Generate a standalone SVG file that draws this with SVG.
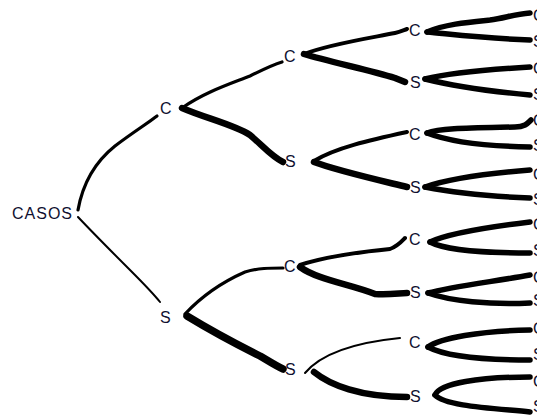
<svg xmlns="http://www.w3.org/2000/svg" width="537" height="415" viewBox="0 0 537 415">
<style>
text{font-family:"Liberation Sans",Arial,sans-serif;font-size:16px;fill:#101030}
.e{fill:none;stroke:#000;stroke-linecap:round;stroke-linejoin:round}
.w2{stroke-width:2}.w3{stroke-width:3.2}.w4{stroke-width:4}.w5{stroke-width:5.5}.w6{stroke-width:6.5}.w7{stroke-width:7.5}
</style>
<rect width="537" height="415" fill="#fff"/>
<g id="connectors">
<path class="e w3" d="M78,210 C83,182 95,162 115,146 C132,133 148,123 157,116"/>
<path class="e w2" d="M78,217 C95,235 112,252 130,270 C145,285 152,292 160,302"/>
<path class="e w3" d="M182,108 C205,92 230,84 250,76 C262,70 272,65 282,62"/>
<path class="e w6" d="M182,108 C205,118 235,125 250,135 C262,145 272,157 283,162"/>
<path class="e w3" d="M185,314 C200,298 220,283 245,272 C258,268 270,268 283,268"/>
<path class="e w7" d="M187,316 C210,330 240,346 260,356 C270,362 278,367 283,369"/>
<path class="e w4" d="M304,54 C330,44 370,38 395,33 C400,32 404,30 407,29"/>
<path class="e w6" d="M304,54 C330,62 370,70 395,78 L405,82"/>
<path class="e w4" d="M314,161 C335,148 370,140 407,132"/>
<path class="e w6" d="M314,162 C335,170 370,178 407,187"/>
<path class="e w4" d="M300,265 C330,255 370,251 390,249 C398,246 403,240 405,238"/>
<path class="e w6" d="M300,267 C318,280 350,284 375,294 C390,295 400,293 407,293"/>
<path class="e w2" d="M305,373 C320,355 350,343 400,338"/>
<path class="e w6" d="M314,372 C330,385 360,397 407,397"/>
<path class="e w5" d="M427,32 C445,24 470,22 490,20 C505,18 515,14 530,13"/>
<path class="e w5" d="M427,32 C450,34 480,38 530,40"/>
<path class="e w5" d="M425,79 C445,74 480,70 530,67"/>
<path class="e w5" d="M425,79 C445,84 475,90 530,95"/>
<path class="e w5" d="M427,133 C440,128 470,128 515,127 C525,127 528,123 531,120"/>
<path class="e w5" d="M427,133 C445,140 475,146 530,147"/>
<path class="e w5" d="M425,187 C445,180 480,174 530,170"/>
<path class="e w5" d="M425,187 C445,191 480,196 530,198"/>
<path class="e w5" d="M430,242 C445,235 480,228 530,222"/>
<path class="e w5" d="M430,242 C445,250 480,253 530,253"/>
<path class="e w5" d="M428,293 C450,287 490,282 530,275"/>
<path class="e w5" d="M428,293 C450,301 490,305 530,303"/>
<path class="e w5" d="M428,347 C440,338 480,331 530,330"/>
<path class="e w5" d="M428,347 C445,356 480,360 530,360"/>
<path class="e w5" d="M435,395 C440,383 480,377 530,377"/>
<path class="e w5" d="M435,395 C445,406 490,408 530,412"/>
</g>
<g id="root"><text x="12" y="219" textLength="60">CASOS</text></g>
<g id="n1c"><text x="160" y="114">C</text></g>
<g id="n1s"><text x="160" y="323">S</text></g>
<g id="n2c1"><text x="284" y="62">C</text></g>
<g id="n2s1"><text x="285" y="167">S</text></g>
<g id="n2c2"><text x="284" y="272">C</text></g>
<g id="n2s2"><text x="285" y="375">S</text></g>
<g id="n3c1"><text x="409" y="36">C</text></g>
<g id="n3s1"><text x="410" y="88">S</text></g>
<g id="n3c2"><text x="409" y="140">C</text></g>
<g id="n3s2"><text x="410" y="193">S</text></g>
<g id="n3c3"><text x="409" y="245">C</text></g>
<g id="n3s3"><text x="410" y="298">S</text></g>
<g id="n3c4"><text x="409" y="348">C</text></g>
<g id="n3s4"><text x="410" y="402">S</text></g>
<g id="leaves">
<text x="533" y="21">C</text><text x="533" y="47">S</text>
<text x="533" y="74">C</text><text x="533" y="100">S</text>
<text x="533" y="126">C</text><text x="533" y="151">S</text>
<text x="533" y="180">C</text><text x="533" y="205">S</text>
<text x="533" y="230">C</text><text x="533" y="256">S</text>
<text x="533" y="283">C</text><text x="533" y="306">S</text>
<text x="533" y="334">C</text><text x="533" y="360">S</text>
<text x="533" y="387">C</text><text x="533" y="412">S</text>
</g>
</svg>
